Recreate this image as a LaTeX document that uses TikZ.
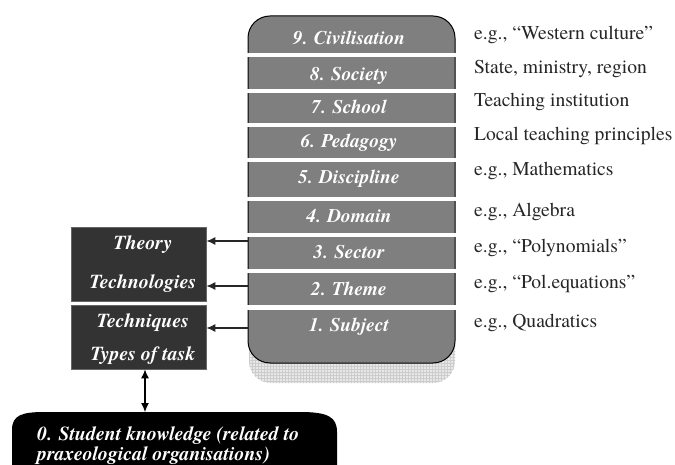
\documentclass[tikz,border=0pt]{standalone}
\usepackage{fontspec}
\setmainfont{texgyretermes}[Extension=.otf, UprightFont=*-regular, BoldFont=*-bold, ItalicFont=*-italic, BoldItalicFont=*-bolditalic]
\usetikzlibrary{arrows.meta,patterns}
\definecolor{bandgray}{HTML}{7F7F7F}
\definecolor{darkbox}{HTML}{333333}
\begin{document}
\begin{tikzpicture}[x=1pt,y=-1pt,
  bandtxt/.style={font=\fontsize{19.3}{19}\selectfont\bfseries\itshape, text=white, anchor=base, inner sep=0pt},
  notetxt/.style={font=\fontsize{19.6}{19}\selectfont, text=black!85, anchor=base west, inner sep=0pt},
  boxtxt/.style={font=\fontsize{19.8}{19}\selectfont\bfseries\itshape, text=white, anchor=base, inner sep=0pt},
  dbox/.style={draw=black!60, line width=0.8pt, fill=darkbox, minimum width=135pt, inner sep=0pt},
  arr/.style={draw=black!85, line width=1.1pt, -{Latex[length=9pt,width=8pt]}},
  dblarr/.style={draw=black, line width=1.1pt, {Latex[length=9pt,width=8pt]}-{Latex[length=9pt,width=8pt]}},
  sep/.style={fill=white}]
\useasboundingbox (0,0) rectangle (675,465);
\clip (0,0) rectangle (675,465);
% shadow
\fill[gray!18, rounded corners=22pt] (249,60) -- (249,383) -- (455,383) -- (455,60) -- cycle;
\path[pattern=grid, pattern color=gray!40, rounded corners=22pt] (249,60) -- (249,383) -- (455,383) -- (455,60) -- cycle;
% column
\draw[fill=bandgray, line width=1pt, rounded corners=22pt] (248,16) -- (455,16) -- (455,363) -- (248,363) -- cycle;
\foreach \a/\b in {53/57.5, 89/93, 123.5/127.5, 158.5/162, 197/201, 233/237, 269.5/273, 305/309.5}
  \fill[sep] (240,\a) rectangle (465,\b);
% band labels
\node[bandtxt] (b9) at (349,45) {9. Civilisation};
\node[bandtxt] (b8) at (349,81) {8. Society};
\node[bandtxt] (b7) at (349,114) {7. School};
\node[bandtxt] (b6) at (349,148) {6. Pedagogy};
\node[bandtxt] (b5) at (349,184) {5. Discipline};
\node[bandtxt] (b4) at (349,223) {4. Domain};
\node[bandtxt] (b3) at (349,259) {3. Sector};
\node[bandtxt] (b2) at (349,295) {2. Theme};
\node[bandtxt] (b1) at (349,331) {1. Subject};
% right notes
\node[notetxt] (n9) at (474,40) {e.g., “Western culture”};
\node[notetxt] (n8) at (474,74) {State, ministry, region};
\node[notetxt] (n7) at (474,107) {Teaching institution};
\node[notetxt] (n6) at (474,141) {Local teaching principles};
\node[notetxt] (n5) at (474,176) {e.g., Mathematics};
\node[notetxt] (n4) at (474,217) {e.g., Algebra};
\node[notetxt] (n3) at (474,253) {e.g., “Polynomials”};
\node[notetxt] (n2) at (474,289) {e.g., “Pol.equations”};
\node[notetxt] (n1) at (474,327) {e.g., Quadratics};
% left boxes
\node[dbox, minimum height=74pt] (tt) at (138.5,264) {};
\node[dbox, minimum height=64pt] (tq) at (138.5,337) {};
\node[boxtxt] (theory) at (143,250) {Theory};
\node[boxtxt] (techno) at (143,288) {Technologies};
\node[boxtxt] (techni) at (143,327) {Techniques};
\node[boxtxt] (types) at (143,360) {Types of task};
% arrows from column
\coordinate (c3) at (248,241);
\coordinate (c2) at (248,286);
\coordinate (c1) at (248,328);
\draw[arr] (c3) -- (c3 -| tt.east);
\draw[arr] (c2) -- (c2 -| tt.east);
\draw[arr] (c1) -- (c1 -| tq.east);
% student knowledge
\fill[black] (12,480) -- (12,430) .. controls (12,415) and (22,412) .. (45,412) -- (300,412) .. controls (328,412) and (337,417) .. (337,432) -- (337,480) -- cycle;
\coordinate (sk) at (145,412);
\draw[dblarr] (sk |- tq.south) -- (sk);
\node[boxtxt, anchor=base west] (s1) at (37,440) {0. Student knowledge (related to};
\node[boxtxt, anchor=base west] (s2) at (37,460) {praxeological organisations)};
\end{tikzpicture}
\end{document}
